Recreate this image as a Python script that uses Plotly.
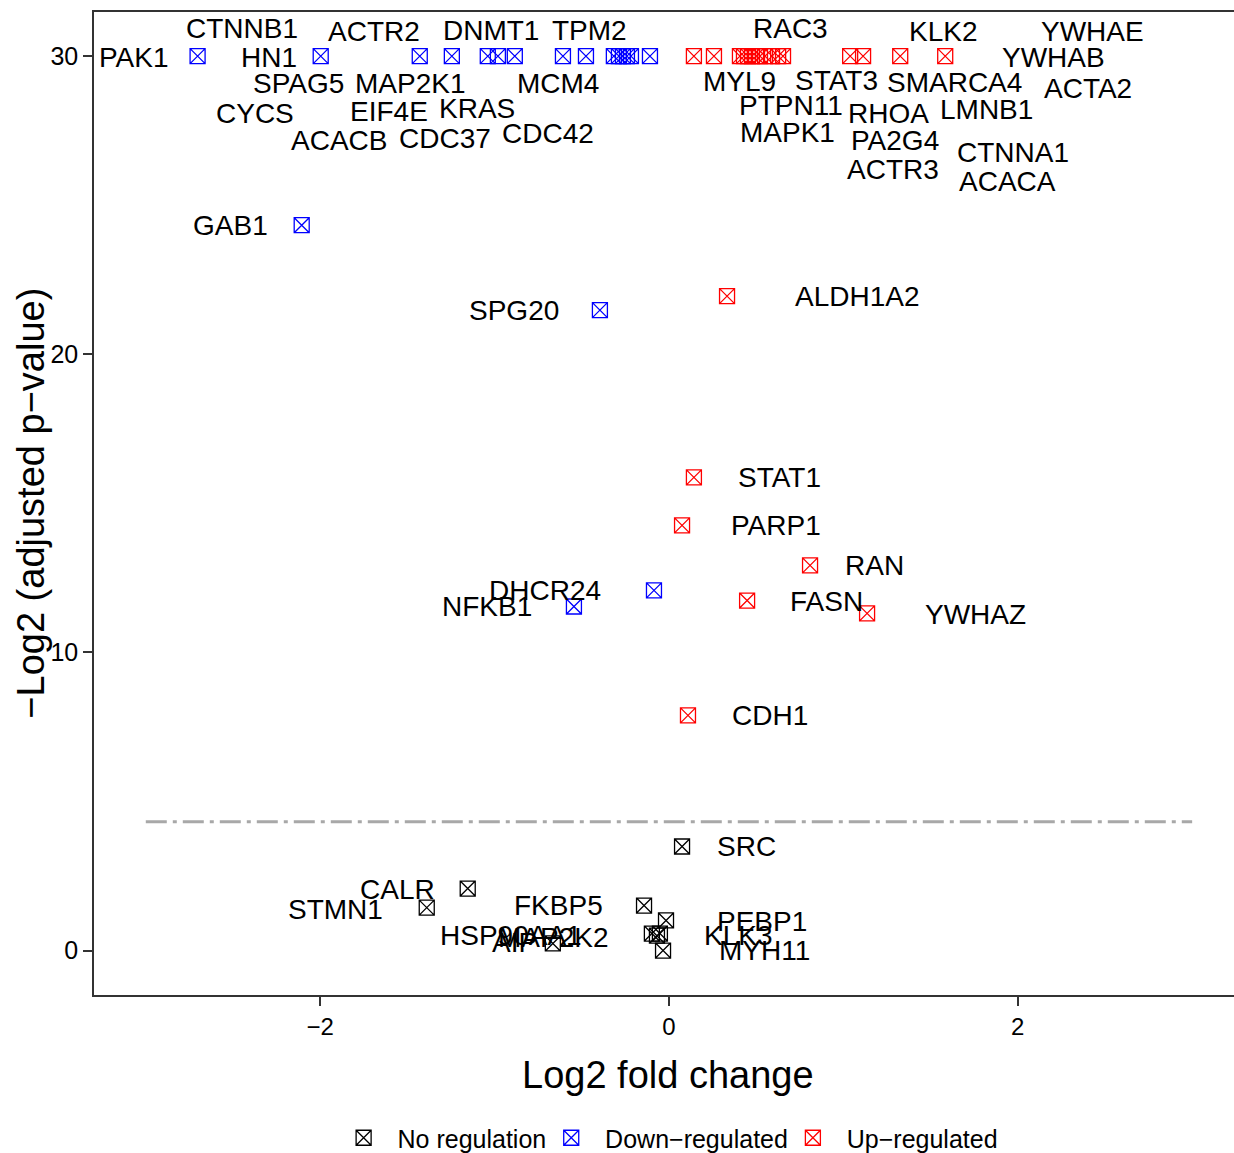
import plotly.graph_objects as go

# ---------------- data ----------------
genes_down = ["PAK1", "HN1", "SPAG5", "CYCS", "ACACB", "CTNNB1", "MAP2K1", "EIF4E",
              "ACTR2", "CDC37", "KRAS", "DNMT1", "MCM4", "CDC42", "TPM2",
              "GAB1", "SPG20", "DHCR24", "NFKB1"]
fc_down = [-2.703, -1.997, -1.429, -1.245, -1.039, -0.981, -0.884, -0.608,
           -0.476, -0.316, -0.287, -0.264, -0.241, -0.218, -0.109,
           -2.106, -0.396, -0.086, -0.545]
p_down = [30, 30, 30, 30, 30, 30, 30, 30, 30, 30, 30, 30, 30, 30, 30,
          24.33, 21.48, 12.08, 11.54]

genes_up = ["MYL9", "PTPN11", "RAC3", "MAPK1", "STAT3", "RHOA", "PA2G4", "ACTR3",
            "SMARCA4", "LMNB1", "KLK2", "CTNNA1", "ACACA", "YWHAB", "YWHAE", "ACTA2",
            "ALDH1A2", "STAT1", "PARP1", "RAN", "FASN", "YWHAZ", "CDH1"]
fc_up = [0.143, 0.258, 0.407, 0.430, 0.453, 0.476, 0.499, 0.522,
         0.551, 0.591, 0.626, 0.654, 1.039, 1.113, 1.326, 1.584,
         0.333, 0.143, 0.075, 0.809, 0.448, 1.136, 0.109]
p_up = [30, 30, 30, 30, 30, 30, 30, 30, 30, 30, 30, 30, 30, 30, 30, 30,
        21.95, 15.87, 14.26, 12.92, 11.74, 11.31, 7.89]

genes_none = ["SRC", "CALR", "STMN1", "FKBP5", "PEBP1", "HSP90AA1", "KLK3",
              "MAP2K2", "MYH11", "AIP"]
fc_none = [0.075, -1.154, -1.389, -0.143, -0.017, -0.098, -0.052, -0.069, -0.034, -0.666]
p_none = [3.49, 2.08, 1.44, 1.51, 1.01, 0.57, 0.57, 0.50, 0.0, 0.24]

threshold = 4.32  # -log2(0.05)

# repelled label placements (layout, not data)
label_pos = {
    "PAK1": (-3.070, 29.97), "CTNNB1": (-2.448, 30.91), "HN1": (-2.294, 29.97),
    "ACTR2": (-1.689, 30.84), "DNMT1": (-1.021, 30.87), "TPM2": (-0.453, 30.87),
    "SPAG5": (-2.127, 29.09), "MAP2K1": (-1.485, 29.09), "MCM4": (-0.634, 29.09),
    "CYCS": (-2.374, 28.09), "EIF4E": (-1.606, 28.15), "KRAS": (-1.098, 28.26),
    "ACACB": (-1.895, 27.18), "CDC37": (-1.284, 27.25), "CDC42": (-0.694, 27.42),
    "RAC3": (0.697, 30.91), "KLK2": (1.577, 30.81), "YWHAE": (2.428, 30.84),
    "YWHAB": (2.205, 29.97), "MYL9": (0.407, 29.16), "STAT3": (0.960, 29.19),
    "SMARCA4": (1.637, 29.13), "ACTA2": (2.405, 28.93), "PTPN11": (0.700, 28.36),
    "RHOA": (1.259, 28.09), "LMNB1": (1.821, 28.22), "MAPK1": (0.682, 27.45),
    "PA2G4": (1.296, 27.18), "CTNNA1": (1.975, 26.78), "ACTR3": (1.287, 26.21),
    "ACACA": (1.944, 25.81),
    "GAB1": (-2.514, 24.33), "SPG20": (-0.889, 21.48), "ALDH1A2": (1.081, 21.95),
    "STAT1": (0.634, 15.87), "PARP1": (0.616, 14.26), "RAN": (1.178, 12.92),
    "DHCR24": (-0.711, 12.08), "NFKB1": (-1.046, 11.54), "FASN": (0.903, 11.71),
    "YWHAZ": (1.755, 11.28), "CDH1": (0.579, 7.89),
    "SRC": (0.447, 3.49), "CALR": (-1.557, 2.05), "STMN1": (-1.915, 1.38),
    "FKBP5": (-0.634, 1.51), "PEBP1": (0.533, 0.97), "HSP90AA1": (-0.906, 0.50),
    "MAP2K2": (-0.665, 0.44), "AIP": (-0.883, 0.27), "KLK3": (0.398, 0.50),
    "MYH11": (0.545, 0.0),
}

# ---------------- figure ----------------
FONT = "Liberation Sans, Arial, Helvetica, sans-serif"
NB = "\u00a0\u00a0"
fig = go.Figure()

groups = [
    ("No regulation", fc_none, p_none, genes_none, "#000000"),
    ("Down\u2212regulated", fc_down, p_down, genes_down, "#0000FF"),
    ("Up\u2212regulated", fc_up, p_up, genes_up, "#FF0000"),
]
for name, xs, ys, gs, col in groups:
    fig.add_trace(go.Scatter(
        x=xs, y=ys, mode="markers", name=NB + name, text=gs,
        marker=dict(symbol="square-x-open", size=15, color=col,
                    line=dict(width=1.3, color=col)),
        hovertemplate="%{text}<br>%{x}<br>%{y}<extra></extra>",
    ))

for g, (lx, ly) in label_pos.items():
    fig.add_annotation(x=lx, y=ly, text=g, showarrow=False,
                       xanchor="center", yanchor="middle",
                       font=dict(family=FONT, size=28, color="black"))

fig.add_shape(type="line", x0=-3, x1=3, y0=threshold, y1=threshold,
              line=dict(color="#A8A8A8", width=3, dash="21px,6px,4px,6px"))

# axis titles
fig.add_annotation(xref="paper", yref="paper", x=0.5035, y=-0.0815,
                   text="Log2 fold change", showarrow=False,
                   xanchor="center", yanchor="middle",
                   font=dict(family=FONT, size=38, color="black"))
fig.add_annotation(xref="paper", yref="paper", x=-0.056, y=0.5,
                   text="\u2212Log2 (adjusted p\u2212value)", showarrow=False,
                   textangle=-90, xanchor="center", yanchor="middle",
                   font=dict(family=FONT, size=38, color="black"))

fig.update_layout(
    width=1234, height=1153,
    margin=dict(l=94, r=0, t=12, b=158, autoexpand=False),
    paper_bgcolor="white", plot_bgcolor="white",
    font=dict(family=FONT, color="black"),
    showlegend=True,
    legend=dict(orientation="h", x=0.508, xanchor="center",
                yref="container", y=0.013, yanchor="middle",
                font=dict(family=FONT, size=25, color="black"),
                itemsizing="trace", bgcolor="rgba(0,0,0,0)"),
)
fig.update_xaxes(range=[-3.297, 3.24], tickvals=[-2, 0, 2],
                 showgrid=False, zeroline=False,
                 showline=True, linecolor="#333333", linewidth=1.5, mirror=True,
                 ticks="outside", ticklen=9, tickwidth=1.5, tickcolor="#333333",
                 tickfont=dict(family=FONT, size=24, color="black"))
fig.update_yaxes(range=[-1.49, 31.48], tickvals=[0, 10, 20, 30],
                 showgrid=False, zeroline=False,
                 showline=True, linecolor="#333333", linewidth=1.5,
                 ticks="outside", ticklen=9, tickwidth=1.5, tickcolor="#333333",
                 tickfont=dict(family=FONT, size=25, color="black"))

fig.write_html("out.html")
